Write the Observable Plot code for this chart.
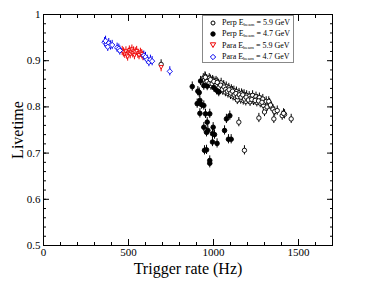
<!DOCTYPE html>
<html><head><meta charset="utf-8">
<script src="https://cdn.jsdelivr.net/npm/d3@7"></script>
<script src="https://cdn.jsdelivr.net/npm/@observablehq/plot@0.6"></script>
<style>
body{margin:0;background:#fff;}
#wrap{position:relative;width:374px;height:289px;font-family:"Liberation Serif",serif;}
#legend{position:absolute;left:202px;top:15px;width:92px;height:48px;border:1px solid #888;background:#fff;box-sizing:border-box;font-size:8px;line-height:11.3px;padding-top:1px;}
#legend .row{display:flex;align-items:center;height:11.3px;}
#legend svg{margin-left:6px;margin-right:5px;}
sub{font-size:5px;vertical-align:-1px;line-height:0;}
</style></head>
<body><div id="wrap"><div id="chart"></div>
<div id="legend"></div></div>
<script>
const perp59X = [940,945,950,955,960,965,970,975,980,985,990,995,1000,1005,1010,1015,1020,1025,1030,1035,1040,1045,1050,1055,1060,1065,1070,1075,1080,1085,1090,1095,1100,1105,1110,1115,1120,1125,1130,1135,1140,1145,1150,1155,1160,1165,1170,1175,1180,1185,1190,1195,1200,1210,1215,1220,1230,1235,1240,1250,1255,1260,1270,1275,1280,1290,1295,1300,1305,1310,1320,1330,1340,1350,1360,1149,1182,1267,1300,1355,1375,1404,1418,1457,1412,692,1140,
  952,962,972,982,992,1002,1012,1022,1032,1042,1052,1062,1072,1082,1092,1102,1112,1122,1132,1142,1152,1162,1172,1182,1192,1205,1225,1245,1265,1285,1315,1325,1335];
const perp59Y = [0.862,0.858,0.866,0.853,0.860,0.849,0.857,0.862,0.851,0.846,0.855,0.858,0.848,0.843,0.852,0.856,0.845,0.840,0.850,0.846,0.838,0.852,0.843,0.835,0.847,0.840,0.832,0.844,0.838,0.829,0.841,0.834,0.826,0.838,0.831,0.823,0.835,0.828,0.820,0.833,0.826,0.818,0.830,0.823,0.816,0.829,0.822,0.814,0.827,0.820,0.812,0.825,0.818,0.823,0.811,0.819,0.825,0.813,0.818,0.822,0.810,0.817,0.820,0.808,0.814,0.817,0.803,0.810,0.796,0.812,0.805,0.808,0.800,0.795,0.790,0.767,0.706,0.776,0.789,0.774,0.792,0.781,0.784,0.774,0.786,0.892,0.815,
  0.864,0.855,0.850,0.859,0.850,0.855,0.846,0.853,0.842,0.847,0.838,0.843,0.838,0.834,0.837,0.830,0.834,0.826,0.829,0.822,0.826,0.821,0.826,0.817,0.821,0.815,0.816,0.814,0.813,0.810,0.800,0.812,0.804];
const perp47X = [875,908,916,924,920,904,920,929,943,953,943,963,967,959,947,959,978,998,994,1006,994,1021,978,978,1065,1076,1096,1088,1104,963,1002,1018,1031,943];
const perp47Y = [0.844,0.834,0.831,0.856,0.814,0.807,0.786,0.805,0.803,0.785,0.756,0.767,0.749,0.745,0.706,0.707,0.785,0.756,0.742,0.740,0.724,0.721,0.684,0.678,0.749,0.774,0.781,0.730,0.730,0.845,0.842,0.836,0.832,0.846];
const para59X = [463,470,478,485,490,495,500,505,510,515,520,525,530,535,540,548,555,562,570,578,585,692];
const para59Y = [0.921,0.918,0.915,0.920,0.913,0.909,0.917,0.922,0.914,0.919,0.924,0.916,0.920,0.912,0.918,0.921,0.915,0.912,0.917,0.914,0.910,0.886];
const para47X = [359,370,384,394,404,433,443,449,590,600,610,620,629,639,743,365,378];
const para47Y = [0.940,0.936,0.938,0.933,0.934,0.928,0.926,0.922,0.911,0.908,0.902,0.897,0.902,0.899,0.877,0.943,0.930];
const errV = 0.01;
const xMajor = [0,500,1000,1500];
const yMajor = [0.5,0.6,0.7,0.8,0.9,1];
const xMinor = d3.range(0,1701,100);
const yMinor = d3.range(0.5,1.0001,0.02);

const mk = (xs, ys) => xs.map((x,i)=>({x, y: ys[i]}));
const perp59 = mk(perp59X, perp59Y), perp47 = mk(perp47X, perp47Y), para59 = mk(para59X, para59Y), para47 = mk(para47X, para47Y);

const triDown = {draw(ctx, size){const s=Math.sqrt(size/1.3)/2; ctx.moveTo(-s, -s*0.8); ctx.lineTo(s, -s*0.8); ctx.lineTo(0, s*1.0); ctx.closePath();}};

function err(data, color){
  return Plot.ruleX(data, {x:"x", y1: d=>d.y-errV, y2: d=>d.y+errV, stroke: color, strokeWidth: 1});
}
const font = "Liberation Serif";
const chart = Plot.plot({
  width: 374, height: 289,
  marginLeft: 43, marginRight: 42, marginTop: 14, marginBottom: 44,
  style: {fontFamily: font, background: "#fff"},
  x: {domain: [0,1700]},
  y: {domain: [0.5,1]},
  marks: [
    Plot.frame({stroke: "#000"}),
    Plot.axisX({anchor:"bottom", ticks: xMinor, tickSize: -3, tickFormat: ()=>"", label: null}),
    Plot.axisX({anchor:"top", ticks: xMinor, tickSize: -3, tickFormat: ()=>"", label: null}),
    Plot.axisX({anchor:"top", ticks: xMajor, tickSize: -6, tickFormat: ()=>"", label: null}),
    Plot.axisX({anchor:"bottom", ticks: xMajor, tickSize: -6, tickPadding: 9, fontSize: 11, tickFormat: d=>String(d), label: null}),
    Plot.axisY({anchor:"left", ticks: yMinor, tickSize: -3, tickFormat: ()=>"", label: null}),
    Plot.axisY({anchor:"right", ticks: yMinor, tickSize: -3, tickFormat: ()=>"", label: null}),
    Plot.axisY({anchor:"right", ticks: yMajor, tickSize: -6, tickFormat: ()=>"", label: null}),
    Plot.axisY({anchor:"left", ticks: yMajor, tickSize: -6, tickPadding: 9, fontSize: 11, tickFormat: d=>d===1?"1":d.toFixed(1), label: null}),
    err(perp59, "#000"), err(perp47, "#000"), err(para59, "#e00"), err(para47, "#00e"),
    Plot.dot(perp59, {x:"x", y:"y", r: 2.2, stroke:"#000", fill:"#fff", strokeWidth: 0.9}),
    Plot.dot(perp47, {x:"x", y:"y", r: 2.3, stroke:"#000", fill:"#000", strokeWidth: 0.9}),
    Plot.dot(para59, {x:"x", y:"y", r: 2.6, symbol: triDown, stroke:"#e00", fill:"#fff", strokeWidth: 0.9}),
    Plot.dot(para47, {x:"x", y:"y", r: 2.4, symbol: "diamond2", stroke:"#00e", fill:"#fff", strokeWidth: 0.9})
  ]
});
const svg = d3.select(chart);
svg.append("text").attr("x", 188).attr("y", 274).attr("text-anchor","middle").attr("font-size", 16).attr("font-family", font).text("Trigger rate (Hz)");
svg.append("text").attr("transform","translate(23,130) rotate(-90)").attr("text-anchor","middle").attr("font-size", 16).attr("font-family", font).text("Livetime");
document.getElementById("chart").appendChild(chart);

const legendItems = [
  {label:"Perp", e:"5.9 GeV", sym:'<circle cx="4" cy="4" r="2" fill="#fff" stroke="#000"/>'},
  {label:"Perp", e:"4.7 GeV", sym:'<circle cx="4" cy="4" r="2.2" fill="#000" stroke="#000"/>'},
  {label:"Para", e:"5.9 GeV", sym:'<path d="M1.3,1.8L6.7,1.8L4,6.5Z" fill="#fff" stroke="#e00"/>'},
  {label:"Para", e:"4.7 GeV", sym:'<path d="M4,1.3L6.7,4L4,6.7L1.3,4Z" fill="#fff" stroke="#00e"/>'}
];
document.getElementById("legend").innerHTML = legendItems.map(it =>
  `<div class="row"><svg width="8" height="8">${it.sym}</svg><span>${it.label} E<sub>beam</sub> = ${it.e}</span></div>`).join("");
</script></body></html>
